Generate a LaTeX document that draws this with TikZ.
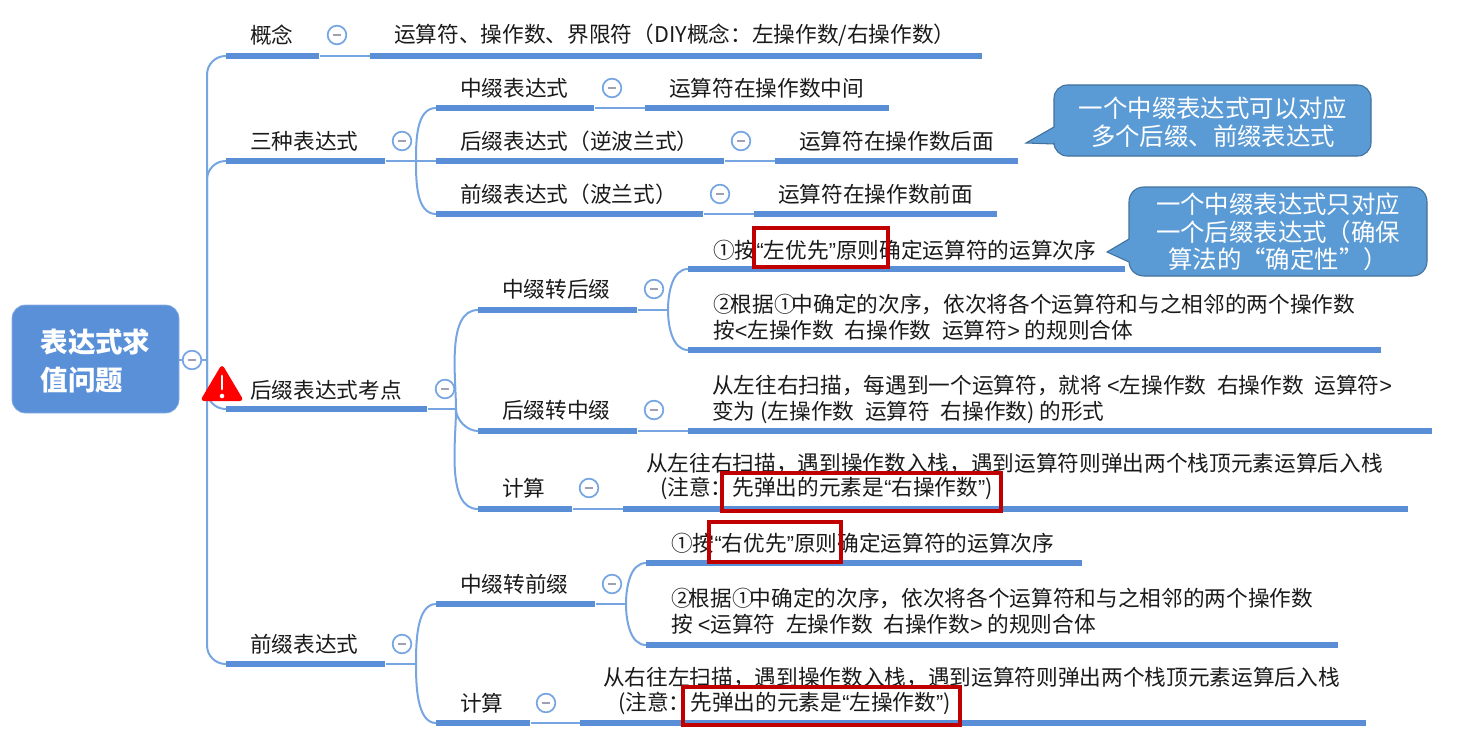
\documentclass[tikz,border=0pt]{standalone}
\usepackage{fontspec}
\setmainfont{Noto Sans CJK SC}
\newfontfamily\latq{Liberation Sans}
\usetikzlibrary{calc}
\definecolor{barblue}{HTML}{5A8FD8}
\definecolor{linkblue}{HTML}{76A5E2}
\definecolor{rootblue}{HTML}{5A90D8}
\definecolor{calloutfill}{HTML}{5B9BD5}
\definecolor{calloutline}{HTML}{41719C}
\definecolor{redbox}{HTML}{C00000}
\definecolor{inktext}{HTML}{1A1A1A}
\definecolor{dashgrey}{HTML}{A0A0B4}
\newcommand{\qq}[1]{{\latq\symbol{"201C}}#1{\latq\symbol{"201D}}}
\newcommand{\gp}{\hspace{8pt}}
\newcommand{\tgt}{\hspace{-3pt}}
\tikzset{
  txt/.style={anchor=west,inner sep=0pt,text=inktext,align=left,font=\fontsize{16.25}{19.5}\selectfont},
  barst/.style={fill=barblue,draw=none,inner sep=0pt,minimum height=4.1pt,anchor=west,rectangle},
  conn/.style={draw=linkblue,line width=1.5pt},
  togst/.style={circle,draw=linkblue,fill=white,line width=1.3pt,minimum size=14pt,inner sep=0pt},
  togdash/.style={draw=dashgrey,line width=1.3pt},
  rootst/.style={rectangle,rounded corners=10pt,fill=rootblue,draw=rootblue!70!white,line width=.5pt,inner sep=0pt,
     minimum width=125.25pt,minimum height=81pt},
  roottxt/.style={text=white,align=left,inner sep=0pt,font=\fontsize{20.6}{28.5}\selectfont\bfseries},
  callout/.style={fill=calloutfill,draw=calloutline,line width=.8pt},
  callouttxt/.style={text=white,inner sep=0pt,align=center,font=\fontsize{18.3}{20.5}\selectfont},
  redrect/.style={draw=redbox,line width=3pt},
}
\newcommand{\mmbar}[4]{\pgfmathsetlengthmacro{\mmw}{(#3-#2)*0.75}\node[barst,minimum width=\mmw] (#1) at (#2,#4) {};}
\newcommand{\mmtog}[3]{\node[togst] (#1) at (#2,#3) {};\draw[togdash] ([xshift=-3.2pt]#1.center) -- ([xshift=3.2pt]#1.center);}
\begin{document}
\begin{tikzpicture}[x=0.75pt,y=-0.75pt]
\useasboundingbox (0,0) rectangle (1471,742);

% bars
\mmbar{a1}{226}{319}{56}   \mmbar{a1v}{370}{982}{56}
\mmbar{a2}{226}{385}{161}
\mmbar{b1}{436}{594}{108}  \mmbar{b1v}{645}{889}{108}
\mmbar{b2}{436}{724}{161}  \mmbar{b2v}{775}{1018}{161}
\mmbar{b3}{436}{703}{214}  \mmbar{b3v}{754}{997}{214}
\mmbar{a3}{226}{427}{409}
\mmbar{c1}{478}{637}{310}
\mmbar{d1}{688}{1125}{269} \mmbar{d2}{688}{1381}{350}
\mmbar{c2}{478}{637}{431}  \mmbar{c2v}{688}{1432}{431}
\mmbar{c3}{478}{572}{509}  \mmbar{c3v}{623}{1408}{509}
\mmbar{a4}{226}{385}{664}
\mmbar{e1}{436}{595}{604}
\mmbar{f1}{646}{1082}{563} \mmbar{f2}{646}{1338}{645}
\mmbar{e2}{436}{530}{723}  \mmbar{e2v}{580}{1366}{723}

% fork points
\coordinate (k0) at (207,360);
\coordinate (k2) at (416,161);
\coordinate (k3) at (456,409);
\coordinate (kc1) at (668,310);
\coordinate (k4) at (416,664);
\coordinate (ke1) at (626,604);

% root
\node[rootst] (root) at (95.5,359) {};
\node[roottxt] (rootlabel) at (95.5,361) {表达式求\\值问题};

% connectors
\draw[conn] (root.east |- k0) -- (k0);
\draw[conn,rounded corners=14pt] (k0) |- (a1.west);
\draw[conn,rounded corners=14pt] (k0) |- (a2.west);
\draw[conn,rounded corners=14pt] (k0) |- (a3.west);
\draw[conn,rounded corners=14pt] (k0) |- (a4.west);
\draw[conn] (a1.east) -- (a1v.west);
\draw[conn] (a2.east) -- (b2.west);
\draw[conn] (k2) to[out=90,in=180,looseness=.9] (b1.west);
\draw[conn] (k2) to[out=-90,in=180,looseness=.9] (b3.west);
\draw[conn] (b1.east) -- (b1v.west);
\draw[conn] (b2.east) -- (b2v.west);
\draw[conn] (b3.east) -- (b3v.west);
\draw[conn] (a3.east) -- (k3);
\draw[conn] (k3) to[out=90,in=180,looseness=.8] (c1.west);
\draw[conn] (k3) to[out=-90,in=180,looseness=.9] (c2.west);
\draw[conn] (k3) to[out=-90,in=180,looseness=.8] (c3.west);
\draw[conn] (c1.east) -- (kc1);
\draw[conn] (kc1) to[out=90,in=180,looseness=.9] (d1.west);
\draw[conn] (kc1) to[out=-90,in=180,looseness=.9] (d2.west);
\draw[conn] (c2.east) -- (c2v.west);
\draw[conn] (c3.east) -- (c3v.west);
\draw[conn] (a4.east) -- (k4);
\draw[conn] (k4) to[out=90,in=180,looseness=.8] (e1.west);
\draw[conn] (k4) to[out=-90,in=180,looseness=.8] (e2.west);
\draw[conn] (e1.east) -- (ke1);
\draw[conn] (ke1) to[out=90,in=180,looseness=.9] (f1.west);
\draw[conn] (ke1) to[out=-90,in=180,looseness=.9] (f2.west);
\draw[conn] (e2.east) -- (e2v.west);

% toggles
\mmtog{t0}{192}{360}
\mmtog{t1}{337}{35}
\mmtog{t2}{402}{141}
\mmtog{t3}{612}{88}
\mmtog{t4}{741}{141}
\mmtog{t5}{720}{194}
\mmtog{t6}{445}{389}
\mmtog{t7}{654}{289}
\mmtog{t8}{654}{410}
\mmtog{t9}{589}{488}
\mmtog{t10}{402}{644}
\mmtog{t11}{612}{584}
\mmtog{t12}{546}{703}

% texts
\node[txt] (n1) at (250,35.5) {概念};
\node[txt] (n1v) at (394,35.5) {运算符、操作数、界限符（DIY概念：左操作数/右操作数）};
\node[txt] (n2) at (250,141.5) {三种表达式};
\node[txt] (n3) at (460,88.5) {中缀表达式};
\node[txt] (n3v) at (669,88.5) {运算符在操作数中间};
\node[txt] (n4) at (460,141.5) {后缀表达式（逆波兰式）};
\node[txt] (n4v) at (799,141.5) {运算符在操作数后面};
\node[txt] (n5) at (460,194.5) {前缀表达式（波兰式）};
\node[txt] (n5v) at (778,194.5) {运算符在操作数前面};
\node[txt] (n6) at (250,390.5) {后缀表达式考点};
\node[txt] (n7) at (502,289.5) {中缀转后缀};
\node[txt] (n7a) at (713,250.5) {①按\qq{左优先}原则确定运算符的运算次序};
\node[txt] (n7b) at (713,317.5) {②\tgt 根据①\tgt 中确定的次序，依次将各个运算符和与之相邻的两个操作数\\按{\latq<}左操作数\gp 右操作数\gp 运算符{\latq>} 的规则合体};
\node[txt] (n8) at (502,410.5) {后缀转中缀};
\node[txt] (n8v) at (712,399) {从左往右扫描，每遇到一个运算符，就将 {\latq<}左操作数\gp 右操作数\gp 运算符{\latq>}\\变为 (左操作数\gp 运算符\gp 右操作数) 的形式};
\node[txt] (n9) at (502,488.5) {计算};
\node[txt] (n9v) at (646,463.5) {从左往右扫描，遇到操作数入栈，遇到运算符则弹出两个栈顶元素运算后入栈};
\node[txt] (n9w) at (660,488.5) {(注意：先弹出的元素是\qq{右操作数})};
\node[txt] (n10) at (250,644.5) {前缀表达式};
\node[txt] (n11) at (460,584.5) {中缀转前缀};
\node[txt] (n11a) at (671,543.5) {①按\qq{右优先}原则确定运算符的运算次序};
\node[txt] (n11b) at (671,611.5) {②\tgt 根据①\tgt 中确定的次序，依次将各个运算符和与之相邻的两个操作数\\按 {\latq<}运算符\gp 左操作数\gp 右操作数{\latq>} 的规则合体};
\node[txt] (n12) at (460,703.5) {计算};
\node[txt] (n12v) at (603,677.5) {从右往左扫描，遇到操作数入栈，遇到运算符则弹出两个栈顶元素运算后入栈};
\node[txt] (n12w) at (618,703.5) {(注意：先弹出的元素是\qq{左操作数})};

% warning icon
\fill[red,rounded corners=3pt] (222,364) -- (244,401) -- (200,401) -- cycle;
\draw[white,line width=2.2pt,line cap=round] (222,376) -- (222,389);
\fill[white] (222,396) circle (1.7pt);

% callouts
\draw[callout] (1054,127) [rounded corners=10pt] -- (1054,85) -- (1371,85) -- (1371,156) -- (1054,156) [sharp corners] -- (1054,144) -- (1026,143) -- cycle;
\node[callouttxt] (q1) at (1213,122) {一个中缀表达式可以对应\\多个后缀、前缀表达式};
\draw[callout] (1129,239) [rounded corners=11pt] -- (1129,187) -- (1427,187) -- (1427,276) -- (1129,276) [sharp corners] -- (1129,262) -- (1107,252) -- cycle;
\node[callouttxt] (q2) at (1278,232) {一个中缀表达式只对应\\一个后缀表达式（确保\\算法的“确定性”）};

% red rectangles
\draw[redrect] (754,228) rectangle (888,267);
\draw[redrect] (722,473) rectangle (1001,511);
\draw[redrect] (709,522) rectangle (841,562);
\draw[redrect] (683,687) rectangle (960,725);
\end{tikzpicture}
\end{document}
